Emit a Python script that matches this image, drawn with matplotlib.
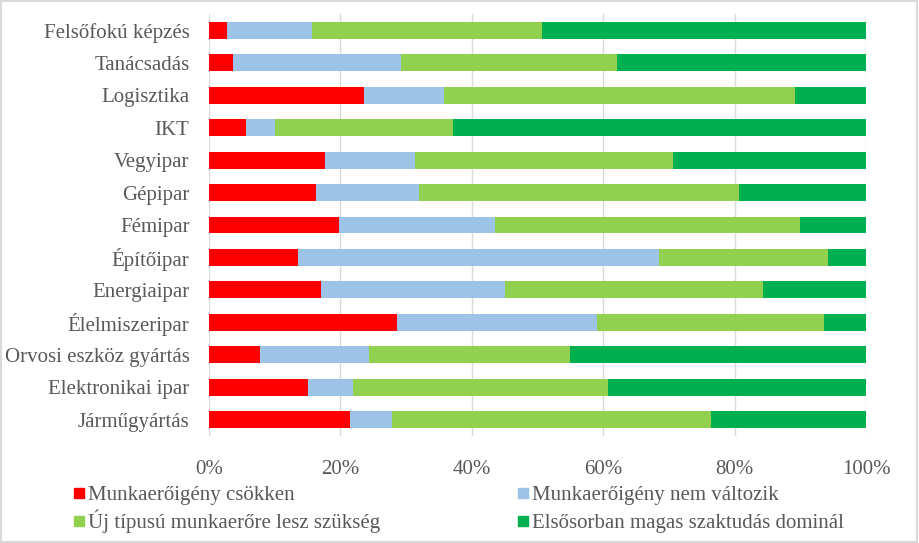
import matplotlib
matplotlib.use("Agg")
import matplotlib.pyplot as plt
from matplotlib.patches import Rectangle
import numpy as np

categories = ["Felsőfokú képzés", "Tanácsadás", "Logisztika", "IKT", "Vegyipar",
              "Gépipar", "Fémipar", "Építőipar", "Energiaipar", "Élelmiszeripar",
              "Orvosi eszköz gyártás", "Elektronikai ipar", "Járműgyártás"]
series_names = ["Munkaerőigény csökken", "Munkaerőigény nem változik",
                "Új típusú munkaerőre lesz szükség", "Elsősorban magas szaktudás dominál"]
csokken = [2.8, 3.6, 23.6, 5.7, 17.7, 16.3, 19.8, 13.5, 17.1, 28.6, 7.8, 15.0, 21.4]
nem_valtozik = [12.9, 25.6, 12.1, 4.3, 13.6, 15.7, 23.7, 55.0, 28.0, 30.5, 16.5, 6.9, 6.4]
uj_tipusu = [35.0, 32.9, 53.5, 27.1, 39.3, 48.6, 46.4, 25.7, 39.2, 34.5, 30.6, 38.8, 48.6]
szaktudas = [49.3, 37.9, 10.8, 62.9, 29.4, 19.4, 10.1, 5.8, 15.7, 6.4, 45.1, 39.3, 23.6]
xticks = [0, 20, 40, 60, 80, 100]
xticklabels = ["0%", "20%", "40%", "60%", "80%", "100%"]

colors = ["#FF0000", "#9DC3E6", "#92D050", "#00B050"]
TXT = "#595959"

plt.rcParams['font.family'] = ['Liberation Serif', 'DejaVu Serif']
FS = 15

fig = plt.figure(figsize=(9.19, 5.43), dpi=100)
ax = fig.add_axes([209/919, 1-436/543, (866-209)/919, (436-14)/543])

y = np.arange(len(categories))
data = [csokken, nem_valtozik, uj_tipusu, szaktudas]
left = np.zeros(len(categories))
for vals, c, name in zip(data, colors, series_names):
    vals = np.array(vals)
    ax.barh(y, vals, left=left, height=0.52, color=c, label=name, zorder=3)
    left += vals

ax.set_ylim(len(categories)-0.5, -0.5)
ax.set_xlim(0, 100)
ax.set_yticks(y)
ax.set_yticklabels(categories, fontsize=FS, color=TXT)
ax.set_xticks(xticks)
ax.set_xticklabels(xticklabels, fontsize=FS, color=TXT)
ax.tick_params(axis='both', length=0)
ax.tick_params(axis='x', pad=17)
ax.tick_params(axis='y', pad=14)
ax.xaxis.grid(True, color="#D9D9D9", linewidth=1, zorder=0)
for s in ax.spines.values():
    s.set_visible(False)

# legend drawn as markers + text (row-wise like the reference)
W, H = 919, 543
positions = [(74, 500), (518, 500), (74, 528), (518, 528)]
for i, (px, py) in enumerate(positions):
    fig.patches.append(Rectangle((px/W, 1-(py-2)/H), 10/W, 10/H, transform=fig.transFigure,
                                 color=colors[i]))
    fig.text((px+14)/W, 1-py/H, series_names[i], fontsize=FS, color=TXT,
             ha="left", va="baseline")

fig.patches.append(Rectangle((0.001, 0.002), 0.997, 0.996, transform=fig.transFigure,
                             fill=False, edgecolor="#D9D9D9", linewidth=1.5))

fig.savefig("out.png", dpi=100, facecolor="white")
